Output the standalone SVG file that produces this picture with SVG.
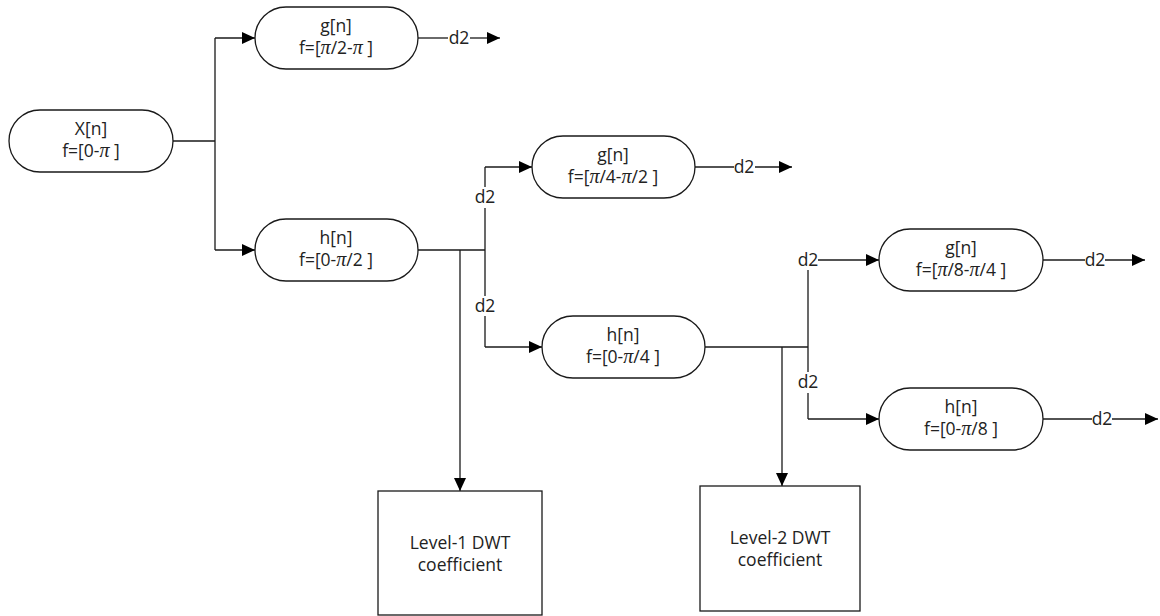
<svg xmlns="http://www.w3.org/2000/svg" width="1160" height="616" viewBox="0 0 1160 616">
<style>
.n{fill:#fff;stroke:#1a1a1a;stroke-width:1.3}
.t{font-family:"Open Sans","Noto Sans",sans-serif;font-size:17.5px;fill:#222;text-anchor:middle}
.pi{font-family:"Liberation Serif",serif;font-style:italic;font-size:20px}
.c{fill:none;stroke:#1a1a1a;stroke-width:1.3}
.a{marker-end:url(#ah)}
</style>
<defs>
<marker id="ah" markerUnits="userSpaceOnUse" markerWidth="13" markerHeight="12" refX="13" refY="6" orient="auto"><path d="M0,0 L13,6 L0,12 z" fill="#000"/></marker>
</defs>
<g id="connectors">
<path class="c" d="M173,141 H215 M215,38 V250"/>
<path class="c a" d="M215,38 H255"/>
<path class="c a" d="M215,250 H255"/>
<path class="c" d="M418,38 H448"/>
<path class="c a" d="M470,38 H500"/>
<path class="c" d="M418,250 H485 M485,167 V187 M485,208 V296 M485,316 V347"/>
<path class="c a" d="M485,167 H532"/>
<path class="c a" d="M485,347 H542"/>
<path class="c a" d="M460,250 V491"/>
<path class="c" d="M695,167 H734"/>
<path class="c a" d="M755,167 H792"/>
<path class="c" d="M705,347 H808 M808,270 V372 M808,393 V419"/>
<path class="c a" d="M818,260 H879"/>
<path class="c a" d="M808,419 H879"/>
<path class="c a" d="M782,347 V486"/>
<path class="c" d="M1043,260 H1085"/>
<path class="c a" d="M1105,260 H1145"/>
<path class="c" d="M1043,419 H1092"/>
<path class="c a" d="M1112,419 H1158"/>
<text class="t" x="459" y="44">d2</text>
<text class="t" x="485" y="203">d2</text>
<text class="t" x="485" y="312">d2</text>
<text class="t" x="744" y="173">d2</text>
<text class="t" x="808" y="266">d2</text>
<text class="t" x="808" y="388">d2</text>
<text class="t" x="1095" y="266">d2</text>
<text class="t" x="1102" y="425">d2</text>
</g>
<g id="x">
<rect class="n" x="9" y="110" width="164" height="62" rx="31"/>
<text class="t" x="91" y="135">X[n]</text>
<text class="t" x="91" y="157">f=[0-<tspan class="pi">π</tspan> ]</text>
</g>
<g id="g1">
<rect class="n" x="255" y="7" width="163" height="62" rx="31"/>
<text class="t" x="336" y="32">g[n]</text>
<text class="t" x="336" y="54">f=[<tspan class="pi">π</tspan>/2-<tspan class="pi">π</tspan> ]</text>
</g>
<g id="h1">
<rect class="n" x="255" y="219" width="163" height="62" rx="31"/>
<text class="t" x="336" y="244">h[n]</text>
<text class="t" x="336" y="266">f=[0-<tspan class="pi">π</tspan>/2 ]</text>
</g>
<g id="g2">
<rect class="n" x="532" y="136" width="163" height="62" rx="31"/>
<text class="t" x="613" y="161">g[n]</text>
<text class="t" x="613" y="183">f=[<tspan class="pi">π</tspan>/4-<tspan class="pi">π</tspan>/2 ]</text>
</g>
<g id="h2">
<rect class="n" x="542" y="316" width="163" height="62" rx="31"/>
<text class="t" x="623" y="341">h[n]</text>
<text class="t" x="623" y="363">f=[0-<tspan class="pi">π</tspan>/4 ]</text>
</g>
<g id="g3">
<rect class="n" x="879" y="229" width="164" height="62" rx="31"/>
<text class="t" x="961" y="254">g[n]</text>
<text class="t" x="961" y="276">f=[<tspan class="pi">π</tspan>/8-<tspan class="pi">π</tspan>/4 ]</text>
</g>
<g id="h3">
<rect class="n" x="879" y="388" width="164" height="62" rx="31"/>
<text class="t" x="961" y="413">h[n]</text>
<text class="t" x="961" y="435">f=[0-<tspan class="pi">π</tspan>/8 ]</text>
</g>
<g id="lvl1">
<rect class="n" x="378" y="491" width="164" height="124"/>
<text class="t" x="460" y="549">Level-1 DWT</text>
<text class="t" x="460" y="571">coefficient</text>
</g>
<g id="lvl2">
<rect class="n" x="700" y="486" width="160" height="125"/>
<text class="t" x="780" y="544">Level-2 DWT</text>
<text class="t" x="780" y="566">coefficient</text>
</g>
</svg>
